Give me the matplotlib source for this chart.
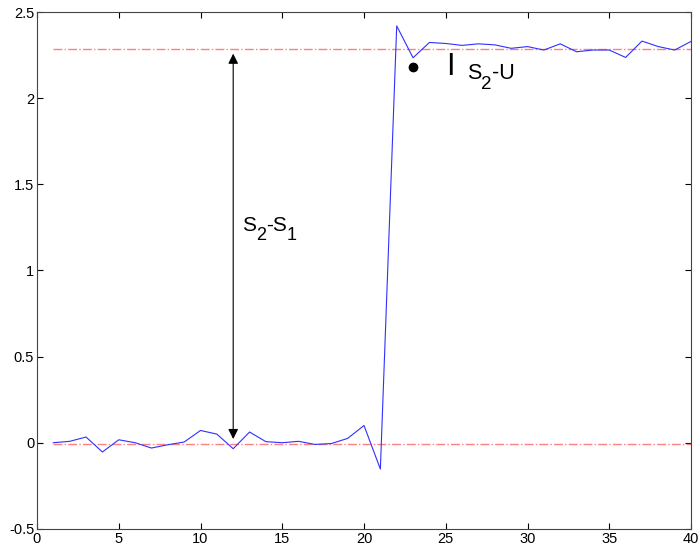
import numpy as np
import matplotlib
matplotlib.use("Agg")
import matplotlib.pyplot as plt

plt.rcParams['font.family'] = ['Liberation Sans', 'DejaVu Sans']

# signal samples
n = np.arange(1, 41)
signal = [0.0, 0.008, 0.033, -0.054, 0.017, 0.0, -0.031, -0.012, 0.004, 0.071,
          0.05, -0.035, 0.062, 0.006, 0.0, 0.008, -0.01, -0.005, 0.025, 0.1,
          -0.153, 2.42, 2.235, 2.324, 2.318, 2.307, 2.316, 2.31, 2.29, 2.30,
          2.28, 2.316, 2.27, 2.28, 2.28, 2.237, 2.332, 2.30, 2.28, 2.33]

s1 = -0.005   # lower level
s2 = 2.285    # upper level
dot_x, dot_y = 23, 2.18
arrow_x = 12

fig = plt.figure(figsize=(6.98, 5.52), dpi=100)
ax = fig.add_axes([0.053, 0.042, 0.937, 0.936])

ax.plot([1, 40], [s2, s2], linestyle='-.', color='#ff8080', lw=1)
ax.plot([1, 40], [s1, s1], linestyle='-.', color='#ff8080', lw=1)
ax.plot(n, signal, color='#3030ff', lw=0.8)
ax.plot(dot_x, dot_y, 'o', color='black', ms=6)

ax.annotate('', xy=(arrow_x, s1 + 0.01), xytext=(arrow_x, s2 - 0.01),
            arrowprops=dict(arrowstyle='<|-|>', color='black', lw=0.8,
                            mutation_scale=15))

# S2-S1 label, subscripts drawn as separate lowered pieces
t = ax.text(12.55, 1.205, 'S', fontsize=15, va='bottom', ha='left')
t = ax.annotate('2', xy=(1, 0), xycoords=t, xytext=(0, -6),
                textcoords='offset points', fontsize=13, va='bottom', ha='left')
t = ax.annotate('-S', xy=(1, 0), xycoords=t, xytext=(0, 6),
                textcoords='offset points', fontsize=15, va='bottom', ha='left')
t = ax.annotate('1', xy=(1, 0), xycoords=t, xytext=(0, -6),
                textcoords='offset points', fontsize=13, va='bottom', ha='left')

# I S2-U label
ax.text(25.05, 2.18, 'I', fontsize=22, va='center', ha='left')
t = ax.text(26.3, 2.08, 'S', fontsize=15.5, va='bottom', ha='left')
t = ax.annotate('2', xy=(1, 0), xycoords=t, xytext=(0, -6),
                textcoords='offset points', fontsize=13.5, va='bottom', ha='left')
t = ax.annotate('-U', xy=(1, 0), xycoords=t, xytext=(0, 6),
                textcoords='offset points', fontsize=15.5, va='bottom', ha='left')

ax.set_xlim(0, 40)
ax.set_ylim(-0.5, 2.5)
ax.set_xticks(np.arange(0, 41, 5))
ax.set_yticks([-0.5, 0, 0.5, 1, 1.5, 2, 2.5])
ax.set_yticklabels(['-0.5', '0', '0.5', '1', '1.5', '2', '2.5'])
ax.tick_params(direction='in', top=True, right=True, labelsize=10.5, length=4, pad=2)
for sp in ax.spines.values():
    sp.set_color('#444444')

fig.savefig('out.png', dpi=100)
